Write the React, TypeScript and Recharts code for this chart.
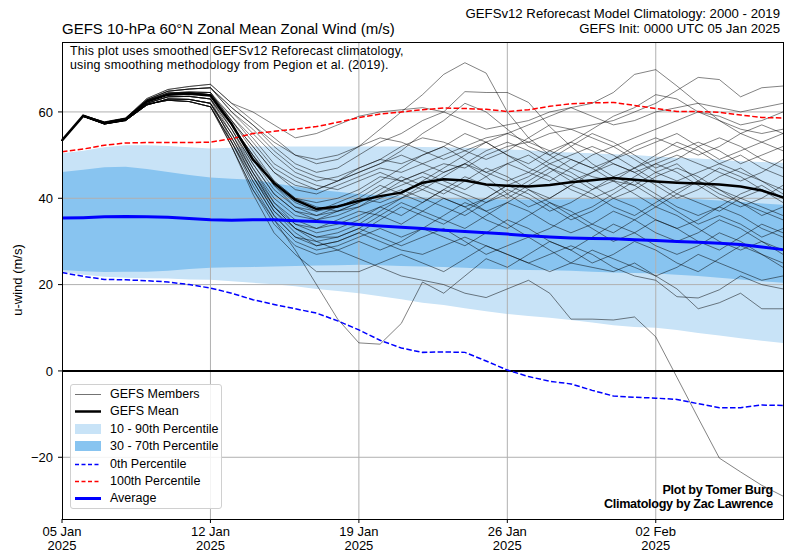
import { ComposedChart, Area, Line, XAxis, YAxis, ReferenceLine } from "recharts"

// forecast day index (0 = 05 Jan 2025, 00 UTC)
const days = [0, 1, 2, 3, 4, 5, 6, 7, 8, 9, 10, 11, 12, 13, 14, 15, 16, 17, 18, 19, 20, 21, 22, 23, 24, 25, 26, 27, 28, 29, 30, 31, 32, 33, 34]

const tickDays = [0, 7, 14, 21, 28]
const tickDates = ["05 Jan", "12 Jan", "19 Jan", "26 Jan", "02 Feb"]
const tickYear = "2025"
const yTicks = [-20, 0, 20, 40, 60]

const gefsMean = [53.4, 59.1, 57.4, 58.3, 62.4, 64.0, 64.2, 63.8, 57.2, 49.0, 43.5, 39.6, 37.5, 38.1, 39.4, 40.5, 41.3, 43.6, 44.4, 44.1, 43.2, 42.9, 42.7, 43.1, 43.7, 44.2, 44.7, 44.3, 43.9, 43.6, 43.4, 43.2, 42.7, 41.8, 40.2]
const climAverage = [35.4, 35.5, 35.7, 35.8, 35.7, 35.6, 35.3, 35.0, 34.9, 35.0, 35.0, 34.8, 34.6, 34.3, 33.9, 33.6, 33.3, 33.0, 32.6, 32.3, 32.0, 31.7, 31.3, 31.0, 30.8, 30.7, 30.6, 30.4, 30.2, 30.0, 29.8, 29.6, 29.3, 28.7, 28.1]
const pct0 = [22.8, 21.9, 21.2, 21.1, 20.9, 20.6, 20.0, 19.2, 18.0, 16.5, 15.4, 14.4, 13.4, 11.6, 9.5, 7.1, 5.3, 4.3, 4.4, 4.3, 2.3, 0.2, -1.3, -2.4, -3.0, -4.5, -5.8, -6.1, -6.3, -6.6, -7.6, -8.5, -8.5, -7.9, -8.0]
const pct10 = [23.0, 22.3, 21.8, 21.6, 21.5, 21.4, 21.2, 21.1, 20.8, 20.4, 20.1, 19.6, 19.0, 18.5, 18.0, 17.3, 16.6, 15.8, 15.3, 14.5, 13.8, 13.2, 12.7, 12.3, 11.8, 11.2, 10.6, 10.2, 10.0, 9.5, 8.8, 8.2, 7.6, 7.0, 6.5]
const pct30 = [23.4, 23.1, 22.9, 23.0, 23.0, 23.2, 23.6, 23.9, 24.0, 24.1, 24.2, 24.3, 24.4, 24.5, 24.6, 24.5, 24.3, 24.2, 24.1, 23.9, 23.7, 23.5, 23.4, 23.3, 23.2, 23.0, 22.8, 22.7, 22.6, 22.3, 22.0, 21.6, 21.2, 20.8, 20.4]
const pct70 = [46.1, 46.6, 47.2, 47.3, 46.8, 46.1, 45.4, 44.8, 44.5, 44.3, 43.5, 42.7, 42.0, 41.5, 41.0, 40.7, 40.4, 40.2, 40.0, 39.9, 39.8, 39.7, 39.7, 39.7, 39.8, 39.9, 40.0, 40.1, 40.1, 40.0, 39.8, 39.5, 39.2, 38.8, 38.5]
const pct90 = [50.4, 51.0, 51.8, 52.3, 52.3, 52.1, 51.8, 51.5, 51.7, 52.0, 52.0, 52.0, 52.0, 52.0, 52.0, 52.0, 52.0, 51.9, 51.8, 51.7, 51.5, 51.3, 51.1, 50.8, 50.6, 50.4, 50.2, 50.0, 49.7, 49.4, 49.2, 48.9, 48.6, 48.4, 48.2]
const pct100 = [50.8, 51.4, 52.3, 52.8, 52.9, 52.9, 52.9, 53.0, 53.8, 55.0, 55.5, 56.0, 56.6, 57.6, 58.7, 59.5, 60.0, 60.5, 60.9, 60.8, 60.6, 60.1, 60.5, 61.3, 61.9, 62.1, 62.2, 61.5, 60.8, 60.1, 60.1, 59.9, 59.3, 58.7, 58.6]

// first 8 days of the members (they barely differ), then each member's own path
const startA = [53.4, 59.1, 57.4, 58.3, 62.4, 64.1, 64.4, 64.0]
const startB = [53.4, 59.0, 57.3, 58.1, 62.0, 63.5, 63.6, 63.0]
const startC = [53.4, 59.2, 57.6, 58.5, 62.8, 64.8, 65.3, 65.6]
const startD = [53.4, 59.0, 57.2, 58.0, 61.6, 63.0, 62.9, 62.0]
const startE = [53.4, 59.1, 57.5, 58.4, 62.6, 64.4, 64.6, 64.5]
const startF = [53.4, 59.0, 57.3, 58.1, 61.8, 62.7, 62.4, 61.2]
const startG = [53.4, 59.2, 57.7, 58.6, 63.1, 65.2, 65.9, 66.4]

const m01 = [...startG, 62, 58, 54, 50, 48, 49, 52, 56, 60, 64, 68.7, 71.4, 69, 60, 54, 50, 47, 45, 44, 43, 46, 48, 44, 41, 39, 36, 38]
const m02 = [...startC, 61, 57, 52, 48, 46, 47, 50, 53, 55, 58, 60, 64.7, 64.5, 64.5, 62.2, 56.6, 52, 48, 45, 47, 50, 53, 51, 48, 46, 44, 42]
const m03 = [...startA, 58, 52, 46, 42, 41, 43, 45, 47, 46, 48, 50, 52, 54, 55, 57, 59, 61, 62, 64.5, 68.7, 69.8, 66, 62, 58, 55, 53, 51]
const m04 = [...startB, 57, 50, 44, 40, 39, 40, 42, 45, 44, 46, 48, 47, 50, 52, 53, 55, 56, 57, 58, 60, 62, 65, 68, 67.5, 63.5, 65.6, 66]
const m05 = [...startG, 62, 60, 57, 54, 55, 57, 59, 60, 60.5, 61, 60, 58, 56, 57, 58, 60, 61, 59, 57, 58, 60, 61, 62, 61, 60, 61, 62]
const m06 = [...startC, 60, 56, 51, 47, 45, 44, 46, 48, 51, 55, 58, 62, 60, 56, 52, 50, 53, 56, 59, 61, 64, 63, 60, 58, 56, 55, 56]
const m07 = [...startE, 59, 53, 47, 44, 42, 44, 47, 49, 52, 54, 53, 51, 49, 51, 54, 57, 56, 54, 52, 54, 56, 58, 60, 59, 57, 58, 60]
const m08 = [...startA, 57, 49, 42, 38, 37, 39, 41, 44, 47, 50, 52, 49, 46, 48, 50, 47, 44, 46, 49, 51, 53, 55, 52, 49, 51, 53, 55]
const m09 = [...startB, 56, 47, 40, 36, 35, 36, 38, 41, 44, 46, 44, 42, 45, 48, 46, 44, 47, 50, 52, 49, 46, 44, 46, 48, 50, 47, 45]
const m10 = [...startE, 58, 51, 44, 40, 38, 37, 39, 42, 45, 43, 41, 44, 47, 45, 42, 40, 43, 46, 48, 46, 43, 40, 42, 45, 47, 44, 41]
const m11 = [...startD, 55, 46, 39, 35, 33, 34, 36, 38, 40, 43, 46, 48, 45, 41, 38, 40, 43, 41, 38, 36, 39, 42, 44, 42, 39, 37, 35]
const m12 = [...startA, 57, 50, 43, 39, 37, 38, 40, 39, 41, 44, 47, 50, 53, 50, 47, 45, 42, 40, 42, 45, 48, 46, 43, 40, 38, 40, 43]
const m13 = [...startD, 54, 45, 37, 33, 31, 32, 34, 37, 40, 42, 40, 38, 40, 43, 45, 48, 46, 43, 40, 42, 45, 47, 45, 42, 40, 38, 36]
const m14 = [...startB, 56, 48, 41, 37, 36, 38, 40, 43, 41, 39, 42, 45, 43, 40, 43, 46, 49, 47, 44, 41, 38, 41, 44, 47, 45, 42, 40]
const m15 = [...startD, 55, 47, 39, 34, 32, 33, 35, 38, 36, 39, 42, 40, 37, 39, 42, 39, 36, 38, 41, 44, 41, 38, 36, 38, 41, 43, 40]
const m16 = [...startF, 53, 44, 36, 31, 29, 30, 32, 35, 38, 36, 34, 37, 40, 43, 41, 38, 35, 37, 40, 38, 35, 33, 35, 38, 36, 33, 31]
const m17 = [...startD, 54, 46, 38, 33, 31, 31, 33, 36, 39, 37, 35, 33, 36, 39, 37, 34, 32, 34, 37, 35, 32, 30, 32, 35, 33, 30, 28]
const m18 = [...startF, 53, 43, 35, 30, 28, 29, 31, 33, 31, 33, 36, 39, 37, 34, 31, 33, 36, 33, 30, 32, 35, 33, 30, 28, 31, 34, 32]
const m19 = [...startF, 52, 42, 34, 29, 27, 28, 30, 28, 30, 33, 31, 29, 32, 35, 33, 30, 28, 31, 34, 32, 29, 27, 29, 32, 30, 27, 25]
const m20 = [...startF, 52, 41, 32, 27, 23, 23, 23, 25, 27, 25, 23, 26, 29, 27, 25, 23, 25, 28, 26, 24, 22, 24, 27, 25, 23, 21, 22]
const m21 = [...startD, 52, 42, 35, 28, 20, 12, 6.5, 6.2, 11, 20.6, 18, 22, 26, 24, 27, 30, 28, 25, 27, 30, 28, 25, 23, 26, 29, 27, 24]
const m22 = [...startB, 53, 45, 38, 33, 30, 28, 26, 24, 22, 21, 20, 18, 17, 19, 21, 18, 12, 12, 11.8, 12.5, 7.9, -1.5, -10.9, -20.2, -23.4, -26.5, -29]
const m23 = [...startD, 54, 45, 37, 32, 29, 30, 32, 30, 28, 27, 29, 31, 29, 27, 25, 27, 29, 27, 24, 22, 21, 17.2, 16.9, 18.8, 22, 20, 19]
const m24 = [...startF, 53, 44, 36, 31, 30, 31, 33, 31, 29, 31, 33, 30, 27, 29, 31, 28, 25, 24, 23, 25, 22, 19, 14.4, 15.8, 18, 14.4, 14.4]
const m25 = [...startE, 58, 52, 46, 43, 42, 44, 46, 48, 50, 48, 46, 48, 51, 53, 51, 48, 50, 52, 50, 47, 49, 51, 53, 51, 48, 50, 52]
const m26 = [...startC, 60, 55, 50, 46, 44, 45, 47, 49, 48, 50, 52, 55, 53, 50, 48, 51, 53, 51, 48, 46, 48, 50, 48, 46, 44, 46, 49]
const m27 = [...startA, 56, 48, 41, 37, 35, 37, 39, 41, 43, 45, 43, 41, 39, 41, 44, 47, 45, 42, 44, 47, 44, 41, 39, 37, 40, 42, 39]
const m28 = [...startE, 57, 50, 43, 38, 36, 37, 38, 40, 42, 40, 38, 36, 39, 42, 40, 37, 39, 42, 45, 43, 40, 37, 34, 36, 34, 31, 33]
const m29 = [...startB, 55, 46, 38, 34, 33, 35, 37, 36, 34, 37, 40, 38, 35, 33, 36, 39, 37, 34, 32, 35, 38, 36, 33, 30, 28, 30, 27]
const m30 = [...startA, 59, 54, 48, 45, 43, 42, 44, 46, 44, 42, 45, 48, 46, 44, 46, 49, 52, 55, 53, 50, 47, 49, 52, 54, 52, 49, 47]
const m31 = [...startC, 61, 57, 53, 50, 49, 50, 52, 54, 53, 51, 49, 51, 53, 55, 53, 51, 49, 47, 49, 52, 54, 52, 50, 52, 55, 57, 55]

const members = [m01, m02, m03, m04, m05, m06, m07, m08, m09, m10, m11, m12, m13, m14, m15, m16, m17, m18, m19, m20, m21, m22, m23, m24, m25, m26, m27, m28, m29, m30, m31]

const data = days.map((d, i) => {
  const row: Record<string, any> = {
    day: d,
    band1090: [pct10[i], pct90[i]],
    band3070: [pct30[i], pct70[i]],
    p0: pct0[i],
    p100: pct100[i],
    avg: climAverage[i],
    mean: gefsMean[i],
  }
  members.forEach((m, k) => {
    row["m" + k] = m[i]
  })
  return row
})

const FONT = "'Liberation Sans', Arial, sans-serif"
const LIGHT = "#c8e3f7"
const DARK = "#88c4f0"
const GRID = "#b0b0b0"

function DateTick(props: any) {
  const { x, y, payload } = props
  const idx = tickDays.indexOf(payload.value)
  return (
    <g transform={`translate(${x},${y})`}>
      <text textAnchor="middle" fontSize={13} fill="#000" fontFamily={FONT}>
        <tspan x={0} dy={11}>{tickDates[idx]}</tspan>
        <tspan x={0} dy={14}>{tickYear}</tspan>
      </text>
    </g>
  )
}

const legendItems = [
  { label: "GEFS Members", kind: "line", color: "rgba(0,0,0,0.55)", width: 1 },
  { label: "GEFS Mean", kind: "line", color: "#000", width: 2.5 },
  { label: "10 - 90th Percentile", kind: "patch", color: LIGHT },
  { label: "30 - 70th Percentile", kind: "patch", color: DARK },
  { label: "0th Percentile", kind: "dash", color: "#0000ff", width: 1.5 },
  { label: "100th Percentile", kind: "dash", color: "#ff0000", width: 1.5 },
  { label: "Average", kind: "line", color: "#0000ff", width: 3 },
]

function LegendBox() {
  return (
    <div
      style={{
        position: "absolute",
        left: 70,
        top: 384,
        width: 152,
        height: 125,
        border: "1px solid #d0d0d0",
        borderRadius: 3,
        background: "rgba(255,255,255,0.85)",
        boxSizing: "border-box",
      }}
    >
      {legendItems.map((it, i) => (
        <div key={it.label} style={{ position: "absolute", left: 0, top: 1 + i * 17.4, height: 17, width: 150 }}>
          <svg width={36} height={17} style={{ position: "absolute", left: 3, top: 0 }}>
            {it.kind === "patch" ? (
              <rect x={1} y={3} width={26} height={10} fill={it.color} />
            ) : (
              <line
                x1={1}
                x2={27}
                y1={8.5}
                y2={8.5}
                stroke={it.color}
                strokeWidth={it.width}
                strokeDasharray={it.kind === "dash" ? "4 2.5" : undefined}
              />
            )}
          </svg>
          <span style={{ position: "absolute", left: 39, top: 1, fontSize: 12.5, fontFamily: FONT, lineHeight: "15px", whiteSpace: "nowrap" }}>
            {it.label}
          </span>
        </div>
      ))}
    </div>
  )
}

export default function App() {
  return (
    <div style={{ position: "absolute", left: 0, top: 0, width: 790, height: 557, background: "#fff", fontFamily: FONT }}>
      <ComposedChart width={790} height={557} data={data} margin={{ top: 42, right: 7, left: 12, bottom: 0 }}>
        <XAxis
          dataKey="day"
          type="number"
          domain={[0, 34]}
          ticks={tickDays}
          tick={<DateTick />}
          tickSize={4}
          tickLine={{ stroke: "#000" }}
          axisLine={false}
          height={38}
          interval={0}
        />
        <YAxis
          type="number"
          domain={[-34.3, 76.2]}
          ticks={yTicks}
          allowDataOverflow
          width={50}
          tickSize={4}
          tickMargin={5}
          tickLine={{ stroke: "#000" }}
          axisLine={false}
          tick={{ fontSize: 13, fill: "#000", fontFamily: FONT }}
          tickFormatter={(v: number) => (v < 0 ? "\u2212" + Math.abs(v) : String(v))}
        />
        <Area dataKey="band1090" stroke="none" fill={LIGHT} fillOpacity={1} isAnimationActive={false} />
        <Area dataKey="band3070" stroke="none" fill={DARK} fillOpacity={1} isAnimationActive={false} />
        {[7, 14, 21, 28].map((d) => (
          <ReferenceLine key={"vx" + d} x={d} stroke={GRID} strokeWidth={1} />
        ))}
        {[-20, 20, 40, 60].map((v) => (
          <ReferenceLine key={"hy" + v} y={v} stroke={GRID} strokeWidth={1} />
        ))}
        <ReferenceLine y={0} stroke="#000" strokeWidth={2} />
        {members.map((_, k) => (
          <Line
            key={"m" + k}
            dataKey={"m" + k}
            type="linear"
            stroke="#000"
            strokeOpacity={0.55}
            strokeWidth={0.9}
            dot={false}
            isAnimationActive={false}
          />
        ))}
        <Line dataKey="p0" type="linear" stroke="#0000ff" strokeWidth={1.5} strokeDasharray="5.5 2.4" dot={false} isAnimationActive={false} />
        <Line dataKey="p100" type="linear" stroke="#ff0000" strokeWidth={1.5} strokeDasharray="5.5 2.4" dot={false} isAnimationActive={false} />
        <Line dataKey="avg" type="linear" stroke="#0000ff" strokeWidth={3} dot={false} isAnimationActive={false} />
        <Line dataKey="mean" type="linear" stroke="#000" strokeWidth={2.5} dot={false} isAnimationActive={false} />
      </ComposedChart>

      {/* plot frame */}
      <div style={{ position: "absolute", left: 61.5, top: 41.5, width: 722, height: 478, border: "1.3px solid #000", boxSizing: "border-box", pointerEvents: "none" }} />

      <div style={{ position: "absolute", left: 62, top: 20, fontSize: 15, lineHeight: "18px", whiteSpace: "nowrap" }}>
        GEFS 10-hPa 60°N Zonal Mean Zonal Wind (m/s)
      </div>
      <div style={{ position: "absolute", right: 10, top: 6, fontSize: 13.2, lineHeight: "15px", textAlign: "right", whiteSpace: "nowrap" }}>
        GEFSv12 Reforecast Model Climatology: 2000 - 2019
        <br />
        GEFS Init: 0000 UTC 05 Jan 2025
      </div>
      <div style={{ position: "absolute", left: 70, top: 44, fontSize: 12.4, lineHeight: "14px", letterSpacing: 0.2, whiteSpace: "nowrap" }}>
        This plot uses smoothed GEFSv12 Reforecast climatology,
        <br />
        using smoothing methodology from Pegion et al. (2019).
      </div>
      <div
        style={{
          position: "absolute",
          right: 17,
          top: 483,
          fontSize: 12.6,
          lineHeight: "14px",
          fontWeight: "bold",
          letterSpacing: -0.3,
          textAlign: "right",
          whiteSpace: "nowrap",
        }}
      >
        Plot by Tomer Burg
        <br />
        Climatology by Zac Lawrence
      </div>
      <div
        style={{
          position: "absolute",
          left: 17,
          top: 280,
          fontSize: 13,
          whiteSpace: "nowrap",
          transform: "translate(-50%, -50%) rotate(-90deg)",
        }}
      >
        u-wind (m/s)
      </div>
      <LegendBox />
    </div>
  )
}
